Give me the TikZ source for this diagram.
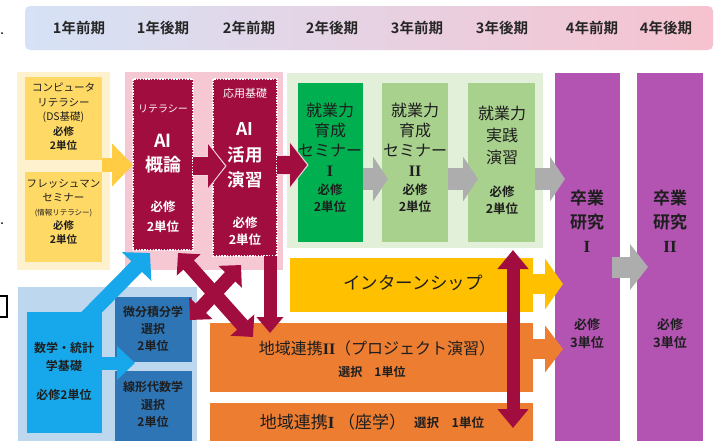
\documentclass[tikz,border=0pt]{standalone}
\usepackage{fontspec}
\setmainfont{Noto Sans CJK JP}[BoldFont={Noto Sans CJK JP Bold}]
\newfontfamily\numeralfont{Liberation Serif}
\usetikzlibrary{arrows.meta}

\definecolor{hdrblue}{HTML}{D6E2F6}
\definecolor{hdrpink}{HTML}{F6C2CF}
\definecolor{ylwbg}{HTML}{FDF1CE}
\definecolor{ylwbox}{HTML}{FFD966}
\definecolor{ylwarrow}{HTML}{FFCC44}
\definecolor{pinkbg}{HTML}{F5C8D4}
\definecolor{pinkedge}{HTML}{F4D6DE}
\definecolor{crimson}{HTML}{A10D3E}
\definecolor{greenbg}{HTML}{E2F0D9}
\definecolor{greendark}{HTML}{00B050}
\definecolor{greenlight}{HTML}{A9D18E}
\definecolor{arrowgray}{HTML}{ADADAD}
\definecolor{purplebox}{HTML}{B354B2}
\definecolor{internyellow}{HTML}{FFC000}
\definecolor{orangebox}{HTML}{ED7D31}
\definecolor{bluebg}{HTML}{BDD7EE}
\definecolor{cyanbox}{HTML}{16A8EA}
\definecolor{bluebox}{HTML}{2E75B6}
\definecolor{txt}{HTML}{1E1E1E}

\newcommand{\romI}{{\numeralfont\bfseries I}}
\newcommand{\romII}{{\numeralfont\bfseries II}}

\begin{document}
\begin{tikzpicture}[x=1pt,y=1pt,yscale=-1,
    cell/.style={anchor=north west, inner sep=0pt, outer sep=0pt},
    stamp/.style={cell, fill=crimson, draw=white, line width=1.3pt, dash pattern=on 1.4pt off 1.4pt},
    lbl/.style={inner sep=0pt, align=center, text=txt},
    hdr/.style={lbl, text=black!85, font=\fontsize{14.5}{14.5}\selectfont\bfseries},
    yarrow/.style={draw=ylwarrow, line width=14pt, -{Triangle[length=21pt,width=42pt]}},
    crimarrow/.style={draw=crimson, line width=18pt, -{Triangle[length=17pt,width=43pt]}},
    crimedge/.style={draw=pinkedge, line width=20.5pt, -{Triangle[length=19pt,width=47pt]}, shorten >=-1.6pt},
    grayarrow/.style={draw=arrowgray, line width=22pt, -{Triangle[length=15pt,width=44pt]}},
    linkarrow/.style={draw=crimson, line width=14pt, {Triangle[length=16pt,width=31pt]}-{Triangle[length=16pt,width=31pt]}}
  ]
  \useasboundingbox (0,0) rectangle (717,440);

  % stray marks on the left edge
  \fill (2,33) circle (1);
  \fill (2,223) circle (1);
  \draw[line width=1.6pt] (-6,296) rectangle (7,317);

  %Shape: header band
  \path[left color=hdrblue, right color=hdrpink, rounded corners=5pt] (25,6) rectangle (713,50);
  % Text Node
  \node[hdr] (h1) at (79,28) {1年前期};
  \node[hdr] (h2) at (163,28) {1年後期};
  \node[hdr] (h3) at (249,28) {2年前期};
  \node[hdr] (h4) at (332,28) {2年後期};
  \node[hdr] (h5) at (417,28) {3年前期};
  \node[hdr] (h6) at (502,28) {3年後期};
  \node[hdr] (h7) at (592,28) {4年前期};
  \node[hdr] (h8) at (666,28) {4年後期};

  %Shape: panels
  \node[cell, fill=ylwbg, minimum width=93, minimum height=198] (ylwpanel) at (17,72) {};
  \node[cell, fill=pinkbg, minimum width=158, minimum height=198] (pinkpanel) at (125,72) {};
  \node[cell, fill=greenbg, minimum width=256, minimum height=175] (greenpanel) at (287,73) {};
  \node[cell, fill=bluebg, minimum width=179, minimum height=160] (bluepanel) at (18,287) {};

  %Shape: boxes
  \node[cell, fill=ylwbox, minimum width=77, minimum height=83] (comp) at (25,77) {};
  \node[cell, fill=ylwbox, minimum width=77, minimum height=90] (fresh) at (25,172) {};
  \node[stamp, minimum width=60, minimum height=171] (ai1) at (133,79) {};
  \node[stamp, minimum width=64, minimum height=177] (ai2) at (213,79) {};
  \node[cell, fill=greendark, minimum width=65, minimum height=159] (sem1) at (298,83) {};
  \node[cell, fill=greenlight, minimum width=66, minimum height=159] (sem2) at (382,83) {};
  \node[cell, fill=greenlight, minimum width=67, minimum height=159] (prac) at (468,83) {};
  \node[cell, fill=purplebox, minimum width=65, minimum height=380] (grad1) at (555,73) {};
  \node[cell, fill=purplebox, minimum width=66, minimum height=380] (grad2) at (637,73) {};
  \node[cell, fill=internyellow, minimum width=243, minimum height=54] (intern) at (290,258) {};
  \node[cell, fill=orangebox, minimum width=323, minimum height=69] (local2) at (210,323) {};
  \node[cell, fill=orangebox, minimum width=323, minimum height=45] (local1) at (210,403) {};
  \node[cell, fill=cyanbox, minimum width=75, minimum height=121] (math) at (27,312) {};
  \node[cell, fill=bluebox, minimum width=77, minimum height=65] (calc) at (115,297) {};
  \node[cell, fill=bluebox, minimum width=77, minimum height=75] (linalg) at (115,371) {};

  % arrow ends
  \coordinate (ai2in) at (225,166);
  \coordinate (sem1in) at (307,165);
  \coordinate (g1) at (388,179);
  \coordinate (g2) at (478,179);
  \coordinate (g3) at (565,179);
  \coordinate (g4a) at (612,267);
  \coordinate (g4) at (648,267);
  \coordinate (internout) at (563,284);
  \coordinate (localout) at (563,349);
  \coordinate (vtop) at (513,250);
  \coordinate (vbot) at (513,428);
  \coordinate (xa1) at (178,253);
  \coordinate (xa2) at (253,337);
  \coordinate (xb1) at (241,265);
  \coordinate (xb2) at (190,320);
  \coordinate (dnend) at (270,333);
  \coordinate (mathout) at (84,320);
  \coordinate (ai1in) at (150,253);
  \coordinate (mathmid) at (135,363);

  %Straight Lines: block arrows
  \draw[yarrow] (comp.east |- 0,165) -- (ai1.west |- 0,165);
  \draw[crimedge] (ai1.east |- 0,166) -- (ai2in);
  \draw[crimarrow] (ai1.east |- 0,166) -- (ai2in);
  \draw[crimedge] (ai2.east |- 0,165) -- (sem1in);
  \draw[crimarrow] (ai2.east |- 0,165) -- (sem1in);
  \draw[grayarrow] (sem1.east |- g1) -- (g1);
  \draw[grayarrow] (sem2.east |- g2) -- (g2);
  \draw[grayarrow] (prac.east |- g3) -- (g3);
  \draw[grayarrow, line width=21pt, -{Triangle[length=18pt,width=45pt]}] (g4a) -- (g4);
  \draw[draw=internyellow, line width=20pt, -{Triangle[length=18pt,width=50pt]}] (intern.east |- internout) -- (internout);
  \draw[draw=orangebox, line width=20pt, -{Triangle[length=18pt,width=46pt]}] (local2.east |- localout) -- (localout);
  \draw[draw=crimson, line width=13pt, {Triangle[length=19pt,width=30pt]}-{Triangle[length=19pt,width=30pt]}] (vtop) -- (vbot);
  \draw[linkarrow] (xa1) -- (xa2);
  \draw[linkarrow] (xb1) -- (xb2);
  \draw[draw=crimson, line width=13pt, -{Triangle[length=16pt,width=26pt]}] (ai2.south -| dnend) -- (dnend);
  \draw[draw=cyanbox, line width=15pt, -{Triangle[length=19pt,width=40pt]}] (mathout) -- (ai1in);
  \draw[draw=cyanbox, line width=13pt, -{Triangle[length=18pt,width=33pt]}] (math.east |- mathmid) -- (mathmid);

  % Text Node
  \node[lbl, font=\fontsize{10.5}{14.5}\selectfont] (t_comp) at (63.5,117) {コンピュータ\\リテラシー\\(DS基礎)\\\textbf{必修}\\\textbf{2単位}};
  % Text Node
  \node[lbl, font=\fontsize{10.5}{14}\selectfont] (t_fresh) at (63.5,212) {フレッシュマン\\セミナー\\{\fontsize{7.5}{9}\selectfont (情報リテラシー)}\\\textbf{必修}\\\textbf{2単位}};
  % Text Node
  \node[lbl, text=white, font=\fontsize{10}{10}\selectfont] (t_lit) at (163,109) {リテラシー};
  \node[lbl, text=white, font=\fontsize{18}{24}\selectfont\bfseries] (t_ai1) at (163,154) {AI\\概論};
  \node[lbl, text=white, font=\fontsize{12.5}{20}\selectfont\bfseries] (c_ai1) at (163,217) {必修\\2単位};
  % Text Node
  \node[lbl, text=white, font=\fontsize{11}{11}\selectfont] (t_app) at (245,93) {応用基礎};
  \node[lbl, text=white, font=\fontsize{17.5}{25.5}\selectfont\bfseries] (t_ai2) at (245,155.5) {AI\\活用\\演習};
  \node[lbl, text=white, font=\fontsize{12.5}{17}\selectfont\bfseries] (c_ai2) at (245,231.5) {必修\\2単位};
  % Text Node
  \node[lbl, font=\fontsize{16}{20}\selectfont] (t_sem1) at (330,140) {就業力\\育成\\セミナー\\{\fontsize{16}{16}\selectfont\romI}};
  \node[lbl, font=\fontsize{12.5}{17}\selectfont\bfseries] (c_sem1) at (330,198.5) {必修\\2単位};
  \node[lbl, font=\fontsize{16}{20}\selectfont] (t_sem2) at (415,140) {就業力\\育成\\セミナー\\{\fontsize{16}{16}\selectfont\romII}};
  \node[lbl, font=\fontsize{12.5}{17}\selectfont\bfseries] (c_sem2) at (415,198.5) {必修\\2単位};
  \node[lbl, font=\fontsize{16}{22}\selectfont] (t_prac) at (502,135) {就業力\\実践\\演習};
  \node[lbl, font=\fontsize{12.5}{17}\selectfont\bfseries] (c_prac) at (502,200) {必修\\2単位};
  % Text Node
  \node[lbl, font=\fontsize{17}{24}\selectfont\bfseries] (t_grad1) at (587,221) {卒業\\研究\\\romI};
  \node[lbl, font=\fontsize{13}{18}\selectfont\bfseries] (c_grad1) at (587,334) {必修\\3単位};
  \node[lbl, font=\fontsize{17}{24}\selectfont\bfseries] (t_grad2) at (670,221) {卒業\\研究\\\romII};
  \node[lbl, font=\fontsize{13}{18}\selectfont\bfseries] (c_grad2) at (670,334) {必修\\3単位};
  % Text Node
  \node[lbl, font=\fontsize{17.5}{17.5}\selectfont] (t_intern) at (413,283) {インターンシップ};
  \node[lbl, font=\fontsize{16}{16}\selectfont] (t_local2) at (377,348) {地域連携\romII（プロジェクト演習）};
  \node[lbl, font=\fontsize{12}{12}\selectfont\bfseries] (c_local2) at (372,372) {選択　1単位};
  \node[lbl, font=\fontsize{17}{17}\selectfont] (t_local1) at (333,422) {地域連携\romI\ （座学）};
  \node[lbl, anchor=west, font=\fontsize{12.5}{12.5}\selectfont\bfseries] (c_local1) at (414,423) {選択　1単位};
  % Text Node
  \node[lbl, font=\fontsize{12}{18}\selectfont\bfseries] (t_math) at (64,357) {数学・統計\\学基礎};
  \node[lbl, font=\fontsize{12}{12}\selectfont\bfseries] (c_math) at (64,395) {必修2単位};
  \node[lbl, font=\fontsize{12}{17}\selectfont\bfseries] (t_calc) at (153,329) {微分積分学\\選択\\2単位};
  \node[lbl, font=\fontsize{12}{17.5}\selectfont\bfseries] (t_linalg) at (153,404.5) {線形代数学\\選択\\2単位};
\end{tikzpicture}
\end{document}
